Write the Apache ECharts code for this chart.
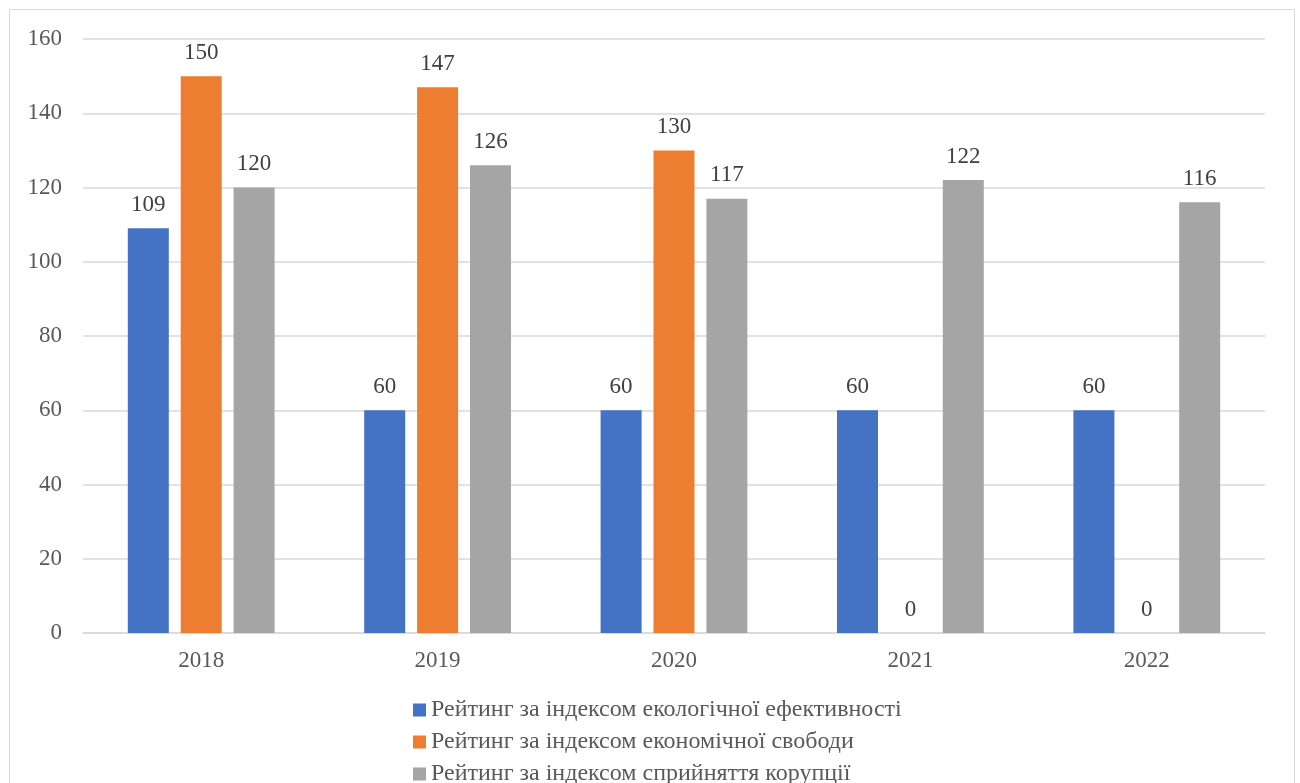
<!DOCTYPE html>
<html>
<head>
<meta charset="utf-8">
<script src="https://cdn.jsdelivr.net/npm/echarts@6/dist/echarts.min.js"></script>
<style>
html,body{margin:0;padding:0;background:#fff;overflow:hidden;}
#frame{position:absolute;left:9px;top:9px;width:1284px;height:800px;border:1px solid #d9d9d9;border-bottom:none;}
#chart{position:absolute;left:0;top:0;width:1300px;height:783px;}
</style>
</head>
<body>
<div id="frame"></div>
<div id="chart"></div>
<script>
const categories = ['2018', '2019', '2020', '2021', '2022'];
const seriesNames = [
  'Рейтинг за індексом екологічної ефективності',
  'Рейтинг за індексом економічної свободи',
  'Рейтинг за індексом сприйняття корупції'
];
const ecoEfficiency = [109, 60, 60, 60, 60];
const econFreedom = [150, 147, 130, 0, 0];
const corruption = [120, 126, 117, 122, 116];
const colors = ['#4472c4', '#ed7d31', '#a5a5a5'];

const font = "'Liberation Serif', 'Times New Roman', 'DejaVu Serif', serif";
const chart = echarts.init(document.getElementById('chart'));
const mk = (name, data, color) => ({
  name, type: 'bar', data, barWidth: 41, barGap: '29%',
  itemStyle: { color },
  label: { show: true, position: 'top', distance: 12, color: '#404040', fontSize: 23, fontFamily: font },
  animation: false
});
chart.setOption({
  animation: false,
  textStyle: { fontFamily: font },
  grid: { left: 83, right: 35, top: 39, bottom: 150, containLabel: false },
  xAxis: {
    type: 'category', data: categories,
    axisLine: { lineStyle: { color: '#d9d9d9', width: 1.5 } },
    axisTick: { show: false },
    axisLabel: { color: '#595959', fontSize: 23, fontFamily: font, margin: 16 }
  },
  yAxis: {
    type: 'value', min: 0, max: 160, interval: 20,
    axisLine: { show: false }, axisTick: { show: false },
    splitLine: { lineStyle: { color: '#d9d9d9', width: 1.5 } },
    axisLabel: { color: '#595959', fontSize: 23, fontFamily: font, margin: 21 }
  },
  legend: {
    orient: 'vertical', left: 408, top: 693, height: 300,
    itemWidth: 13, itemHeight: 13, itemGap: 8,
    icon: 'rect',
    textStyle: { color: '#595959', fontSize: 24, fontFamily: font, lineHeight: 24, padding: [0, 0, 0, 0] },
    data: seriesNames
  },
  series: [
    mk(seriesNames[0], ecoEfficiency, colors[0]),
    mk(seriesNames[1], econFreedom, colors[1]),
    mk(seriesNames[2], corruption, colors[2])
  ]
});
</script>
</body>
</html>
